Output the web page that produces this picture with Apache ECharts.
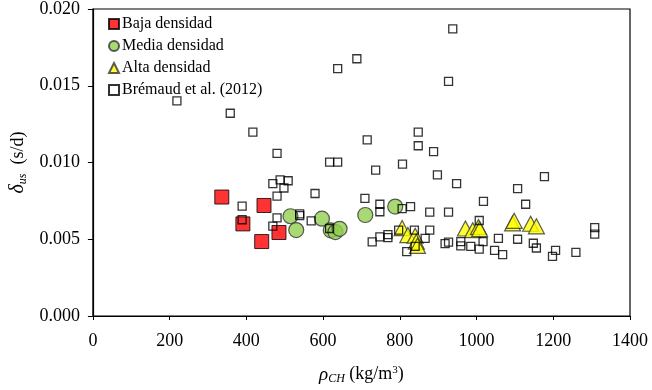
<!DOCTYPE html>
<html>
<head>
<meta charset="utf-8">
<script src="https://cdn.jsdelivr.net/npm/echarts@6/dist/echarts.min.js"></script>
<style>
  html, body { margin: 0; padding: 0; background: #fff; }
  #chart { width: 652px; height: 390px; }
</style>
</head>
<body>
<div id="chart"></div>
<script>
// datos
const seriesNames = ['Baja densidad', 'Media densidad', 'Alta densidad', 'Brémaud et al. (2012)'];
const xTicks = [0, 200, 400, 600, 800, 1000, 1200, 1400];
const yTicks = [0, 0.005, 0.010, 0.015, 0.020];

const bajaX = [336, 446, 391, 485, 440];
const bajaY = [0.00775, 0.0072, 0.0060, 0.00544, 0.00485];

const mediaX = [515, 530, 597, 620, 632, 643, 710, 788];
const mediaY = [0.0065, 0.0056, 0.00634, 0.00558, 0.00547, 0.00568, 0.00658, 0.00713];

const altaX = [806, 821, 840, 843, 846, 971, 990, 1005, 1008, 1094, 1098, 1141, 1156];
const altaY = [0.00573, 0.00527, 0.00523, 0.00484, 0.00457, 0.0057, 0.00559, 0.0058, 0.00566, 0.00603, 0.0062, 0.00601, 0.00584];

const bremaudX = [219, 358, 417, 480, 617, 638, 688, 638, 715,
  938, 927, 848, 848, 888, 807, 737, 898, 1177,
  469, 488, 509, 498, 480, 579, 389, 389, 480, 469, 539, 539, 569, 617, 709,
  948, 1107, 1018, 1128, 748, 748, 806, 828, 878, 927, 1007,
  797, 838, 878, 769, 769, 748, 728, 866, 818, 840, 918, 927,
  959, 959, 985, 1007, 1017, 1057, 1047, 1068, 1107, 1148, 1156, 1198, 1206, 1259, 1308, 1308];
const bremaudY = [0.01401, 0.01321, 0.01198, 0.0106, 0.01003, 0.01003, 0.01676, 0.01611, 0.01147,
  0.01871, 0.01528, 0.01198, 0.01109, 0.01071, 0.00989, 0.0095, 0.0092, 0.00908,
  0.00862, 0.00887, 0.00881, 0.00834, 0.00781, 0.00798, 0.00716, 0.00627, 0.00639, 0.00586, 0.00665, 0.00654, 0.0062, 0.0057, 0.00766,
  0.00862, 0.0083, 0.00747, 0.00728, 0.00728, 0.00679, 0.007, 0.00713, 0.00677, 0.00677, 0.00622,
  0.00559, 0.00559, 0.00559, 0.0053, 0.0051, 0.00516, 0.00483, 0.00506, 0.00419, 0.00453, 0.00472, 0.00481,
  0.00484, 0.00457, 0.00453, 0.00436, 0.00484, 0.00506, 0.00427, 0.004, 0.005, 0.00474, 0.00443, 0.00389, 0.00427, 0.00415, 0.00576, 0.00533];

const zip = (xs, ys) => xs.map((x, i) => [x, ys[i]]);
const serif = 'Liberation Serif';

const chart = echarts.init(document.getElementById('chart'), null, { renderer: 'canvas' });

const option = {
  animation: false,
  textStyle: { fontFamily: serif, color: '#000' },
  grid: {
    left: 92, top: 7, right: 22, bottom: 65,
    show: true, borderColor: '#000', borderWidth: 1.2
  },
  legend: {
    orient: 'vertical',
    left: 103, top: 11,
    itemWidth: 10, itemHeight: 10,
    itemGap: 6,
    textStyle: { fontFamily: serif, fontSize: 16, color: '#000', padding: [0, 0, 0, -2] },
    data: seriesNames
  },
  xAxis: {
    type: 'value',
    min: xTicks[0], max: xTicks[xTicks.length - 1], interval: 200,
    splitLine: { show: false },
    axisLine: { lineStyle: { color: '#000', width: 1.2 } },
    axisTick: { length: 4, lineStyle: { color: '#000' } },
    axisLabel: { fontFamily: serif, fontSize: 18, color: '#000', margin: 16, formatter: v => String(v) },
    name: '{i|ρ}{s|CH} (kg/m{p|3})',
    nameLocation: 'middle',
    nameGap: 48,
    nameTextStyle: {
      fontFamily: serif, fontSize: 18, color: '#000',
      rich: {
        i: { fontFamily: serif, fontStyle: 'italic', fontSize: 19, color: '#000' },
        s: { fontFamily: serif, fontStyle: 'italic', fontSize: 12, color: '#000', padding: [9, 0, 0, 0] },
        p: { fontFamily: serif, fontSize: 11, color: '#000', padding: [0, 0, 9, 0] }
      }
    }
  },
  yAxis: {
    type: 'value',
    min: yTicks[0], max: yTicks[yTicks.length - 1], interval: 0.005,
    splitLine: { show: false },
    axisLine: { show: true, lineStyle: { color: '#000', width: 1.2 } },
    axisTick: { show: true, length: 5, lineStyle: { color: '#000' } },
    axisLabel: { fontFamily: serif, fontSize: 18, color: '#000', margin: 13, formatter: v => v.toFixed(3) },
    name: '{d|δ}{s|us}  (s/d)',
    nameLocation: 'middle',
    nameRotate: 90,
    nameGap: 60,
    nameTextStyle: {
      fontFamily: serif, fontSize: 18, color: '#000',
      rich: {
        d: { fontFamily: serif, fontStyle: 'italic', fontSize: 20, color: '#000' },
        s: { fontFamily: serif, fontStyle: 'italic', fontSize: 12, color: '#000', padding: [9, 0, 0, 0] }
      }
    }
  },
  series: [
    {
      name: seriesNames[0], type: 'scatter', symbol: 'rect', symbolSize: 14,
      itemStyle: { color: '#ff0000', borderColor: '#000', borderWidth: 1 },
      data: zip(bajaX, bajaY)
    },
    {
      name: seriesNames[1], type: 'scatter', symbol: 'circle', symbolSize: 15,
      itemStyle: { color: '#92d050', borderColor: '#333', borderWidth: 1.2 },
      data: zip(mediaX, mediaY)
    },
    {
      name: seriesNames[2], type: 'scatter', symbol: 'triangle', symbolSize: [16, 15],
      itemStyle: { color: '#ffff00', borderColor: '#333', borderWidth: 1.2 },
      data: zip(altaX, altaY)
    },
    {
      name: seriesNames[3], type: 'scatter', symbol: 'rect', symbolSize: 8,
      itemStyle: { color: 'rgba(255,255,255,0)', borderColor: '#000', borderWidth: 1.3 },
      data: zip(bremaudX, bremaudY)
    }
  ]
};

chart.setOption(option);
</script>
</body>
</html>
